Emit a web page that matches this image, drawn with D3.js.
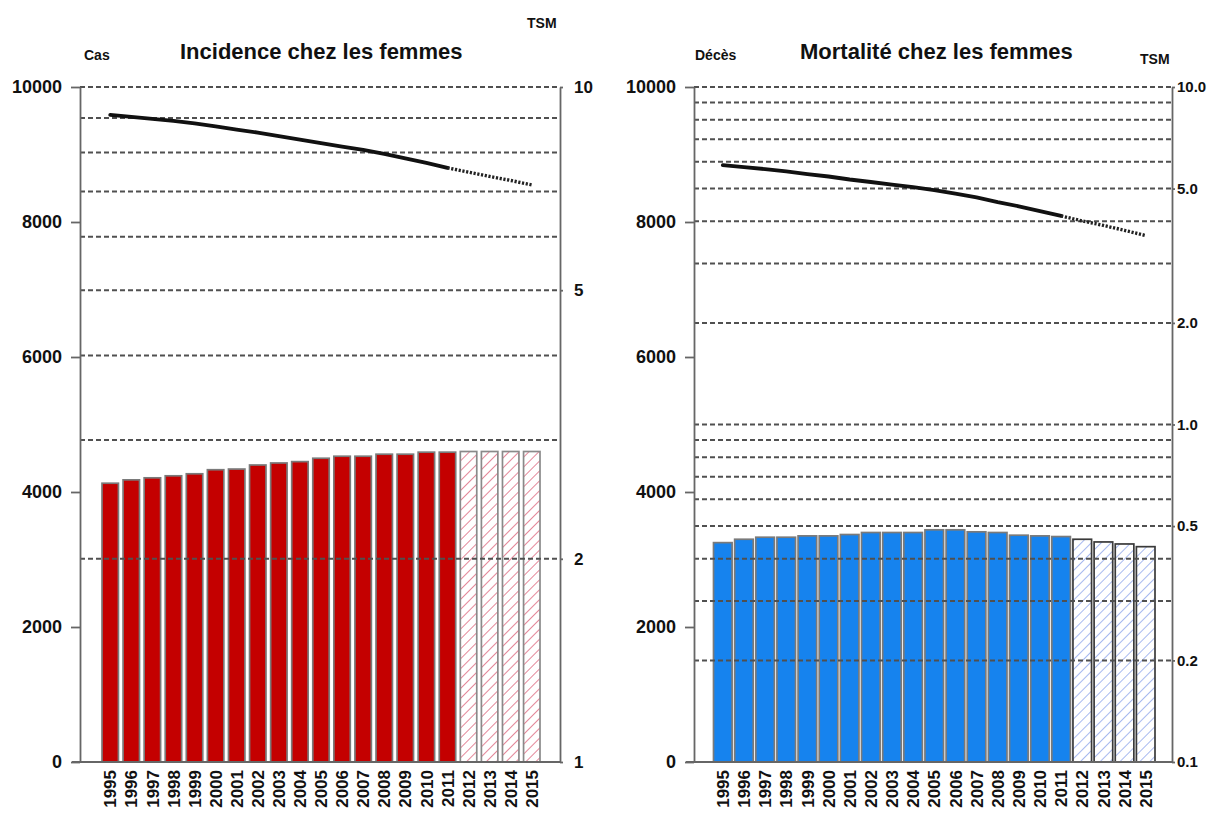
<!DOCTYPE html>
<html>
<head>
<meta charset="utf-8">
<script src="https://cdn.jsdelivr.net/npm/d3@7"></script>
<style>
  body { margin: 0; background: #fff; }
  svg { display: block; }
  text { font-family: "Liberation Sans", Arial, sans-serif; fill: #111; }
</style>
</head>
<body>
<svg id="chart" width="1222" height="820"></svg>
<script>
// ---- data ----------------------------------------------------------------
const years = ["1995","1996","1997","1998","1999","2000","2001","2002","2003","2004",
               "2005","2006","2007","2008","2009","2010","2011","2012","2013","2014","2015"];
const lastObservedYear = 2011;

// Incidence: number of cases and standardised rate (TSM)
const incidenceCases = [4130, 4180, 4210, 4240, 4270, 4330, 4340, 4400, 4430, 4450,
                        4500, 4530, 4530, 4560, 4560, 4590, 4590, 4600, 4600, 4600, 4600];
const incidenceRate  = [9.09, 9.03, 8.97, 8.91, 8.83, 8.74, 8.65, 8.56, 8.46, 8.36,
                        8.26, 8.16, 8.07, 7.96, 7.84, 7.72, 7.59, 7.48, 7.37, 7.27, 7.16];

// Mortality: number of deaths and standardised rate (TSM)
const mortalityDeaths = [3250, 3300, 3330, 3330, 3350, 3350, 3370, 3400, 3400, 3400,
                         3440, 3440, 3410, 3400, 3360, 3350, 3340, 3300, 3260, 3230, 3190];
const mortalityRate   = [5.87, 5.79, 5.71, 5.62, 5.52, 5.43, 5.32, 5.23, 5.14, 5.05,
                         4.95, 4.83, 4.71, 4.56, 4.43, 4.29, 4.15, 4.01, 3.89, 3.76, 3.63];

// Axis ticks
const countTicks = [0, 2000, 4000, 6000, 8000, 10000];
const incidenceRateTicks = [1, 2, 5, 10];
const incidenceRateGrid  = [2, 3, 4, 5, 6, 7, 8, 9, 10];
const mortalityRateTicks = [0.1, 0.2, 0.5, 1, 2, 5, 10];
const mortalityRateGrid  = [0.2, 0.3, 0.4, 0.5, 0.6, 0.7, 0.8, 0.9,
                            1, 2, 3, 4, 5, 6, 7, 8, 9, 10];

// ---- drawing -------------------------------------------------------------
const svg = d3.select("#chart");
const defs = svg.append("defs");

function hatch(id, color) {
  const p = defs.append("pattern")
    .attr("id", id)
    .attr("patternUnits", "userSpaceOnUse")
    .attr("width", 7).attr("height", 7)
    .attr("patternTransform", "rotate(45)");
  p.append("rect").attr("width", 7).attr("height", 7).attr("fill", "#fff");
  p.append("line").attr("x1", 0).attr("y1", 0).attr("x2", 0).attr("y2", 7)
    .attr("stroke", color).attr("stroke-width", 1.5);
}
hatch("hatch-red", "#dc6078");
hatch("hatch-blue", "#8aa2ea");

const TOP = 87, BOTTOM = 762;

function drawPanel(cfg) {
  const g = svg.append("g");
  const y = d3.scaleLinear().domain([0, 10000]).range([BOTTOM, TOP]);
  const yr = d3.scaleLog().domain(cfg.rateDomain).range([BOTTOM, TOP]);
  const x = d3.scaleBand().domain(years).range(cfg.barRange)
    .paddingInner(cfg.padding).paddingOuter(0);

  // bars (observed = solid, projected = hatched)
  g.append("g").selectAll("rect").data(years).join("rect")
    .attr("x", d => x(d))
    .attr("y", (d, i) => y(cfg.counts[i]))
    .attr("width", x.bandwidth())
    .attr("height", (d, i) => y(0) - y(cfg.counts[i]))
    .attr("fill", d => +d > lastObservedYear ? `url(#${cfg.hatchId})` : cfg.color)
    .attr("stroke", d => +d > lastObservedYear ? cfg.projStroke : cfg.barStroke)
    .attr("stroke-width", 1.7);

  // dashed grid lines on the log (rate) scale, drawn above the bars
  g.append("g").selectAll("line").data(cfg.grid).join("line")
    .attr("x1", cfg.axisLeftX).attr("x2", cfg.axisRightX)
    .attr("y1", d => yr(d)).attr("y2", d => yr(d))
    .attr("stroke", "#505050").attr("stroke-width", 2)
    .attr("stroke-dasharray", "5,3");

  // baseline
  g.append("line")
    .attr("x1", cfg.axisLeftX - 8).attr("x2", cfg.axisRightX)
    .attr("y1", BOTTOM).attr("y2", BOTTOM)
    .attr("stroke", "#666").attr("stroke-width", 1.8);

  // left axis: counts
  const la = g.append("g")
    .attr("transform", `translate(${cfg.axisLeftX},0)`)
    .call(d3.axisLeft(y).tickValues(countTicks).tickFormat(d3.format("d"))
      .tickSize(9).tickSizeOuter(0).tickPadding(9));
  la.select(".domain").attr("stroke", "#666").attr("stroke-width", 1.8);
  la.selectAll(".tick line").attr("stroke", "#666").attr("stroke-width", 1.8);
  la.selectAll("text").attr("font-size", 18).attr("font-weight", "bold").attr("fill", "#111");

  // right axis: standardised rate (log)
  const ra = g.append("g")
    .attr("transform", `translate(${cfg.axisRightX},0)`)
    .call(d3.axisRight(yr).tickValues(cfg.rateTicks).tickFormat(cfg.rateFormat)
      .tickSize(3).tickSizeOuter(0).tickPadding(cfg.rightPad));
  ra.select(".domain").attr("stroke", "#666").attr("stroke-width", 1.8);
  ra.selectAll(".tick line").attr("stroke", "#666").attr("stroke-width", 1.8);
  ra.selectAll("text").attr("font-size", cfg.rightFont).attr("font-weight", "bold").attr("fill", "#111");

  // year labels, rotated
  const xa = g.append("g")
    .attr("transform", `translate(0,${BOTTOM})`)
    .call(d3.axisBottom(x).tickSize(0));
  xa.select(".domain").remove();
  xa.selectAll("text")
    .attr("transform", "rotate(-90)")
    .attr("text-anchor", "end")
    .attr("x", -8).attr("y", 0).attr("dy", "0.36em")
    .attr("font-size", 17).attr("font-weight", "bold").attr("fill", "#111");

  // rate curve: observed solid, projection dotted
  const line = d3.line()
    .x(d => x(d.year) + x.bandwidth() / 2)
    .y(d => yr(d.rate));
  const pts = years.map((yy, i) => ({ year: yy, rate: cfg.rates[i] }));
  const split = years.indexOf(String(lastObservedYear));
  g.append("path").datum(pts.slice(0, split + 1))
    .attr("d", line).attr("fill", "none")
    .attr("stroke", "#111").attr("stroke-width", 3.8).attr("stroke-linecap", "round");
  g.append("path").datum(pts.slice(split))
    .attr("d", line).attr("fill", "none")
    .attr("stroke", "#222").attr("stroke-width", 3.4).attr("stroke-dasharray", "2.2,1.6");

  // titles
  g.append("text").attr("x", cfg.titleX).attr("y", 59)
    .attr("font-size", 22).attr("font-weight", "bold").attr("fill", "#222")
    .text(cfg.title);
  g.append("text").attr("x", cfg.leftLabelX).attr("y", 60)
    .attr("font-size", 14).attr("font-weight", "bold").attr("fill", "#222")
    .text(cfg.leftLabel);
  g.append("text").attr("x", cfg.rateLabelX).attr("y", cfg.rateLabelY)
    .attr("font-size", 14).attr("font-weight", "bold").attr("fill", "#222")
    .text("TSM");
}

drawPanel({
  counts: incidenceCases, rates: incidenceRate,
  rateDomain: [1, 10], rateTicks: incidenceRateTicks, grid: incidenceRateGrid,
  rateFormat: d3.format("d"), rightFont: 17, rightPad: 11,
  axisLeftX: 80, axisRightX: 560, barRange: [102, 540], padding: 0.22,
  color: "#c40000", barStroke: "#7a7a7a", projStroke: "#8a8a8a", hatchId: "hatch-red",
  title: "Incidence chez les femmes", titleX: 180,
  leftLabel: "Cas", leftLabelX: 84,
  rateLabelX: 527, rateLabelY: 28
});

drawPanel({
  counts: mortalityDeaths, rates: mortalityRate,
  rateDomain: [0.1, 10], rateTicks: mortalityRateTicks, grid: mortalityRateGrid,
  rateFormat: d3.format(".1f"), rightFont: 15, rightPad: 2,
  axisLeftX: 694, axisRightX: 1172, barRange: [713.5, 1155], padding: 0.12,
  color: "#1683ee", barStroke: "#7a7a7a", projStroke: "#3a3a3a", hatchId: "hatch-blue",
  title: "Mortalité chez les femmes", titleX: 800,
  leftLabel: "Décès", leftLabelX: 695,
  rateLabelX: 1140, rateLabelY: 64
});
</script>
</body>
</html>
